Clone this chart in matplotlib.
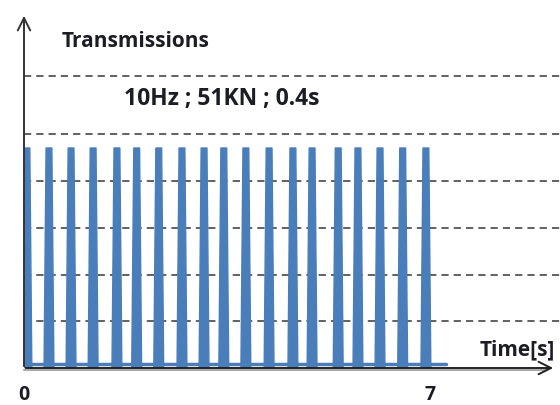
import matplotlib.pyplot as plt

# pulse centres [s]
pulse_t = [0.05, 0.43, 0.81, 1.19, 1.60, 1.94, 2.32, 2.72, 3.10, 3.44,
           3.82, 4.22, 4.63, 4.96, 5.41, 5.75, 6.13, 6.52, 6.92]
pulse_h = 4.71
baseline_end = 7.27
grid_y = [1, 2, 3, 4, 5, 6.25]
x_ticks = [0, 7]
x_tick_labels = ["0", "7"]

blue = "#4a7ebb"
txt = "#1c1c24"
font = "Open Sans"

fig = plt.figure(figsize=(5.6, 4.05), dpi=100)
ax = fig.add_axes([24 / 560, 37 / 405, 532 / 560, 355 / 405])
ax.set_xlim(0, 9.16)
ax.set_ylim(0, 7.6)
ax.axis("off")

# dashed horizontal lines
for y in grid_y:
    ax.plot([0, 9.3], [y, y], color="#555555", lw=1.3,
            linestyle=(0, (4, 2.8)), clip_on=False, zorder=1)

# pulses: narrow trapezoids
hb, ht = 0.085, 0.05
for t in pulse_t:
    xs = [t - hb, t - ht, t + ht, t + hb]
    ys = [0, pulse_h, pulse_h, 0]
    ax.fill(xs, ys, color=blue, ec=blue, lw=1, joinstyle="round", zorder=3)
ax.plot([0, baseline_end], [0.08, 0.08], color=blue, lw=2.5,
        solid_capstyle="round", zorder=3)

# axes arrows
ax.annotate("", xy=(0, 7.6), xytext=(0, -0.02),
            arrowprops=dict(arrowstyle="->,head_length=0.9,head_width=0.45",
                            lw=1.4, color="#333333"),
            annotation_clip=False, zorder=4)
ax.plot([0, 9.0], [-0.04, -0.04], color="#999999", lw=1.2, clip_on=False,
        zorder=4)
ax.annotate("", xy=(9.16, 0), xytext=(-0.02, 0),
            arrowprops=dict(arrowstyle="->,head_length=0.9,head_width=0.45",
                            lw=1.4, color="#222222"),
            annotation_clip=False, zorder=5)

# texts
ax.text(0.65, 6.99, "Transmissions", fontsize=15, fontweight="bold",
        family=font, color=txt, va="center", ha="left")
ax.text(1.72, 5.76, "10Hz ; 51KN ; 0.4s", fontsize=16.5, fontweight="bold",
        family=font, color=txt, va="center", ha="left")
ax.text(7.85, 0.39, "Time[s]", fontsize=15, fontweight="bold",
        family=font, color=txt, va="center", ha="left", clip_on=False)
for xt, lab in zip(x_ticks, x_tick_labels):
    ax.text(xt, -0.58, lab, fontsize=14, fontweight="bold", family=font,
            color=txt, va="center", ha="center", clip_on=False)

fig.savefig("out.png", dpi=100)
